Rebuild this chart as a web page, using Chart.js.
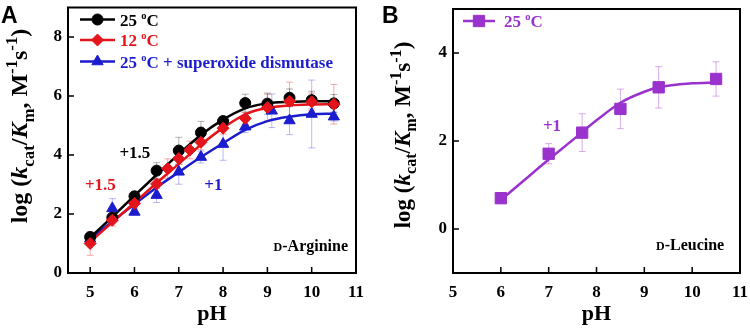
<!DOCTYPE html>
<html><head><meta charset="utf-8">
<script src="https://cdn.jsdelivr.net/npm/chart.js@4.4.0/dist/chart.umd.min.js"></script>
<style>
html,body{margin:0;padding:0;background:#fff;}
#wrap{position:relative;width:750px;height:329px;overflow:hidden;background:#fff;}
canvas{position:absolute;top:0;}
</style></head><body>
<div id="wrap"><canvas id="cA" width="380" height="329" style="left:0"></canvas><canvas id="cB" width="370" height="329" style="left:380px"></canvas></div>
<script>
// ---------- Panel A: D-Arginine ----------
const phA25  = [5,5.5,6,6.5,7,7.5,8,8.5,9,9.5,10,10.5];
const logA25 = [1.22,1.88,2.6,3.47,4.15,4.76,5.15,5.76,5.74,5.94,5.86,5.75];
const errA25 = [0.1,0.12,0.15,0.27,0.45,0.38,0.15,0.3,0.36,0.3,0.3,0.3];

const phA12  = [5,5.5,6,6.5,6.75,7,7.25,7.5,8,8.5,9,9.5,10,10.5];
const logA12 = [1.0,1.79,2.36,3.02,3.54,3.88,4.17,4.43,4.91,5.24,5.61,5.82,5.8,5.72];
const errA12 = [0.4,0.2,0.15,0.15,0.33,0.2,0.3,0.25,0.2,0.2,0.45,0.65,0.3,0.67];

const phASOD  = [5,5.5,6,6.5,7,7.5,8,8.5,9.1,9.5,10,10.5];
const logASOD = [1.16,2.19,2.07,2.64,3.43,3.93,4.37,4.96,5.5,5.17,5.39,5.3];
const errASOD = [0.1,0.33,0.1,0.25,0.42,0.2,0.55,0.2,0.57,0.48,1.15,0.15];

// fitted curves
const fitPhA   = [5,5.5,6,6.5,7,7.5,8,8.5,9,9.5,10,10.5];
const fitA25   = [1.2,1.9,2.62,3.33,4.03,4.68,5.2,5.58,5.75,5.8,5.82,5.82];
const fitA12   = [1.05,1.72,2.38,3.05,3.7,4.35,4.92,5.38,5.6,5.68,5.71,5.72];
const fitASOD  = [1.15,1.75,2.33,2.9,3.42,3.93,4.4,4.85,5.15,5.3,5.38,5.4];

// ---------- Panel B: D-Leucine ----------
const phB  = [6,7,7.7,8.5,9.3,10.5];
const logB = [0.7,1.71,2.19,2.73,3.22,3.41];
const errB = [0.1,0.23,0.43,0.45,0.47,0.39];
const fitPhB = [6,6.5,7,7.5,8,8.5,9,9.3,10,10.5];
const fitB   = [0.66,1.12,1.58,2.02,2.47,2.87,3.12,3.22,3.31,3.33];

// ticks
const xTicksA = [5,6,7,8,9,10,11];
const yTicksA = [0,2,4,6,8];
const xTicksB = [5,6,7,8,9,10,11];
const yTicksB = [0,2,4];

// labels
const legendA = ['25 °C','12 °C','25 °C + superoxide dismutase'];
const legendB = ['25 °C'];
const substrateA = 'D-Arginine';
const substrateB = 'D-Leucine';

const SERIF = '"Liberation Serif","Times New Roman",serif';
const SANS = '"Liberation Sans",Arial,sans-serif';
const BLACK = '#000000', RED = '#e3141b', BLUE = '#1c1ccf', PURPLE = '#9a32cd';

const pts = (xs, ys) => xs.map((x, i) => ({x, y: ys[i]}));

const errPlugin = {
  id: 'errbars',
  beforeDatasetsDraw(chart) {
    const ctx = chart.ctx, xs = chart.scales.x, ys = chart.scales.y;
    chart.data.datasets.forEach((ds) => {
      if (!ds.errors) return;
      ctx.save();
      ctx.strokeStyle = ds.errColor; ctx.lineWidth = 1;
      ds.data.forEach((p, i) => {
        const e = ds.errors[i];
        const px = xs.getPixelForValue(p.x);
        const y1 = ys.getPixelForValue(p.y - e), y2 = ys.getPixelForValue(p.y + e);
        ctx.beginPath();
        ctx.moveTo(px, y1); ctx.lineTo(px, y2);
        ctx.moveTo(px - 3.5, y1); ctx.lineTo(px + 3.5, y1);
        ctx.moveTo(px - 3.5, y2); ctx.lineTo(px + 3.5, y2);
        ctx.stroke();
      });
      ctx.restore();
    });
  }
};

function pieceFont(p, size, ratio) {
  let fs = size, style = '';
  if (p.s === 'sub' || p.s === 'sup') fs = size * ratio;
  if (p.s === 'i') style = 'italic ';
  return style + 'bold ' + fs + 'px ' + SERIF;
}
function drawRich(ctx, pieces, size, ratio) {
  let x = 0;
  pieces.forEach(p => {
    let dy = 0;
    if (p.s === 'sub') dy = size * 0.28;
    if (p.s === 'sup') dy = -size * 0.4;
    ctx.font = pieceFont(p, size, ratio);
    ctx.fillText(p.t, x, dy);
    x += ctx.measureText(p.t).width;
  });
  return x;
}
function richWidth(ctx, pieces, size, ratio) {
  let x = 0;
  pieces.forEach(p => { ctx.font = pieceFont(p, size, ratio); x += ctx.measureText(p.t).width; });
  return x;
}
const yTitle = [
  {t:'log (', s:'n'}, {t:'k', s:'i'}, {t:'cat', s:'sub'}, {t:'/', s:'n'},
  {t:'K', s:'i'}, {t:'m', s:'sub'}, {t:', M', s:'n'}, {t:'-1', s:'sup'},
  {t:'s', s:'n'}, {t:'-1', s:'sup'}, {t:')', s:'n'}
];
function degPieces(label) {
  const k = label.indexOf('°');
  return [{t: label.slice(0, k), s:'n'}, {t:'o', s:'sup'}, {t: label.slice(k + 1), s:'n'}];
}

const decorPlugin = {
  id: 'decor',
  afterDraw(chart, args, o) {
    const ctx = chart.ctx, ca = chart.chartArea, xs = chart.scales.x, ys = chart.scales.y;
    ctx.save();
    // frame
    ctx.strokeStyle = '#000'; ctx.lineWidth = 2;
    ctx.strokeRect(ca.left, ca.top, ca.right - ca.left, ca.bottom - ca.top);
    // inward ticks
    ctx.lineWidth = 1.5;
    ctx.beginPath();
    o.xticks.forEach(v => { const p = xs.getPixelForValue(v); ctx.moveTo(p, ca.bottom); ctx.lineTo(p, ca.bottom - 6); });
    o.yticks.forEach(v => { const p = ys.getPixelForValue(v); ctx.moveTo(ca.left, p); ctx.lineTo(ca.left + 6, p); });
    ctx.stroke();
    // y-axis title
    ctx.fillStyle = '#000'; ctx.textBaseline = 'alphabetic'; ctx.textAlign = 'left';
    const w = richWidth(ctx, yTitle, o.titleSize, 0.7);
    ctx.save();
    ctx.translate(o.titleX, o.titleCY + w / 2);
    ctx.rotate(-Math.PI / 2);
    drawRich(ctx, yTitle, o.titleSize, 0.7);
    ctx.restore();
    // panel letter
    ctx.font = 'bold 23px ' + SANS; ctx.fillStyle = '#000';
    ctx.fillText(o.letter, o.letterX, 23);
    // legend
    o.legend.forEach((it) => {
      const y = ca.top + it.dy;
      ctx.strokeStyle = it.color; ctx.fillStyle = it.color; ctx.lineWidth = 2.5;
      ctx.beginPath(); ctx.moveTo(ca.left + o.legX0, y); ctx.lineTo(ca.left + o.legX1, y); ctx.stroke();
      ctx.lineWidth = 1;
      Chart.helpers.drawPoint(ctx, {pointStyle: it.style, radius: it.r, rotation: 0, borderWidth: 1}, ca.left + (o.legX0 + o.legX1) / 2, y);
      ctx.fillStyle = it.color;
      ctx.save(); ctx.translate(ca.left + o.legText, y + 6);
      drawRich(ctx, degPieces(it.label), 17, 0.62);
      ctx.restore();
    });
    // annotations in data coordinates
    o.notes.forEach(n => {
      ctx.fillStyle = n.color; ctx.font = 'bold 17px ' + SERIF;
      ctx.textAlign = 'center'; ctx.textBaseline = 'middle';
      ctx.fillText(n.t, xs.getPixelForValue(n.x), ys.getPixelForValue(n.y));
    });
    // substrate label with small-cap D
    ctx.fillStyle = '#000'; ctx.textAlign = 'left'; ctx.textBaseline = 'alphabetic';
    const sub = o.substrate;
    ctx.font = 'bold 16px ' + SERIF; const wRest = ctx.measureText(sub.t.slice(1)).width;
    ctx.font = 'bold 12px ' + SERIF; const wD = ctx.measureText(sub.t[0]).width;
    const xr = xs.getPixelForValue(sub.x), yb = ys.getPixelForValue(sub.y);
    ctx.fillText(sub.t[0], xr - wRest - wD, yb);
    ctx.font = 'bold 16px ' + SERIF; ctx.fillText(sub.t.slice(1), xr - wRest, yb);
    ctx.restore();
  }
};

function makeChart(id, c) {
  return new Chart(document.getElementById(id), {
    type: 'scatter',
    data: { datasets: c.datasets },
    options: {
      responsive: false, animation: false, devicePixelRatio: 1,
      layout: { padding: c.pad },
      plugins: { legend: {display: false}, tooltip: {enabled: false}, decor: c.decor },
      scales: {
        x: {
          type: 'linear', min: c.xmin, max: c.xmax,
          afterBuildTicks: s => { s.ticks = c.decor.xticks.map(v => ({value: v})); },
          afterFit: s => { s.height = c.xh; s.paddingLeft = 0; s.paddingRight = 0; },
          grid: {display: false, drawTicks: false}, border: {display: false},
          ticks: {color: '#000', padding: 9, maxRotation: 0, autoSkip: false,
                  font: {family: SERIF, weight: 'bold', size: 17}},
          title: {display: true, text: 'pH', color: '#000', padding: {top: 0, bottom: 1},
                  font: {family: SERIF, weight: 'bold', size: 22}}
        },
        y: {
          type: 'linear', min: c.ymin, max: c.ymax,
          afterBuildTicks: s => { s.ticks = c.decor.yticks.map(v => ({value: v})); },
          afterFit: s => { s.width = c.yw; s.paddingTop = 0; s.paddingBottom = 0; },
          grid: {display: false, drawTicks: false}, border: {display: false},
          ticks: {color: '#000', padding: 6, autoSkip: false,
                  font: {family: SERIF, weight: 'bold', size: 17}}
        }
      }
    },
    plugins: [errPlugin, decorPlugin]
  });
}

const curve = (xs, ys, color, order) => ({
  data: pts(xs, ys), showLine: true, pointRadius: 0, borderColor: color, borderWidth: 2.5,
  cubicInterpolationMode: 'monotone', order: order, clip: false
});
const marks = (xs, ys, errs, color, errColor, style, r, order) => ({
  data: pts(xs, ys), showLine: false, pointStyle: style, pointRadius: r,
  backgroundColor: color, borderColor: color, borderWidth: 1,
  errors: errs, errColor: errColor, order: order, clip: false
});

makeChart('cA', {
  pad: {left: 0, top: 3, right: 24, bottom: 0},
  xmin: 4.5, xmax: 11, ymin: 0, ymax: 9, xh: 56, yw: 68,
  datasets: [
    marks(phA12, logA12, errA12, RED, 'rgba(227,20,27,0.35)', 'rectRot', 6, 1),
    marks(phA25, logA25, errA25, BLACK, 'rgba(0,0,0,0.3)', 'circle', 5.5, 2),
    marks(phASOD, logASOD, errASOD, BLUE, 'rgba(28,28,207,0.3)', 'triangle', 6.5, 3),
    curve(fitPhA, fitA25, BLACK, 6),
    curve(fitPhA, fitA12, RED, 5),
    curve(fitPhA, fitASOD, BLUE, 7)
  ],
  decor: {
    xticks: xTicksA, yticks: yTicksA, letter: 'A', letterX: 1,
    titleX: 27, titleCY: 126, titleSize: 24,
    legX0: 12, legX1: 47, legText: 52,
    legend: [
      {label: legendA[0], color: BLACK, style: 'circle', r: 5.5, dy: 12},
      {label: legendA[1], color: RED, style: 'rectRot', r: 6, dy: 32.5},
      {label: legendA[2], color: BLUE, style: 'triangle', r: 6.5, dy: 54}
    ],
    notes: [
      {t: '+1.5', x: 6.01, y: 4.05, color: BLACK},
      {t: '+1.5', x: 5.23, y: 2.95, color: RED},
      {t: '+1', x: 7.78, y: 2.95, color: BLUE}
    ],
    substrate: {t: substrateA, x: 10.82, y: 0.75}
  }
});

makeChart('cB', {
  pad: {left: 0, top: 3, right: 10, bottom: 0},
  xmin: 5, xmax: 11, ymin: -1, ymax: 5, xh: 56, yw: 73,
  datasets: [
    marks(phB, logB, errB, PURPLE, 'rgba(154,50,205,0.4)', 'rect', 8, 1),
    curve(fitPhB, fitB, PURPLE, 5)
  ],
  decor: {
    xticks: xTicksB, yticks: yTicksB, letter: 'B', letterX: 2,
    titleX: 30, titleCY: 135, titleSize: 23,
    legX0: 10, legX1: 42, legText: 51,
    legend: [
      {label: legendB[0], color: PURPLE, style: 'rect', r: 8, dy: 12}
    ],
    notes: [
      {t: '+1', x: 7.07, y: 2.33, color: PURPLE}
    ],
    substrate: {t: substrateB, x: 10.67, y: -0.48}
  }
});
</script>
</body></html>
